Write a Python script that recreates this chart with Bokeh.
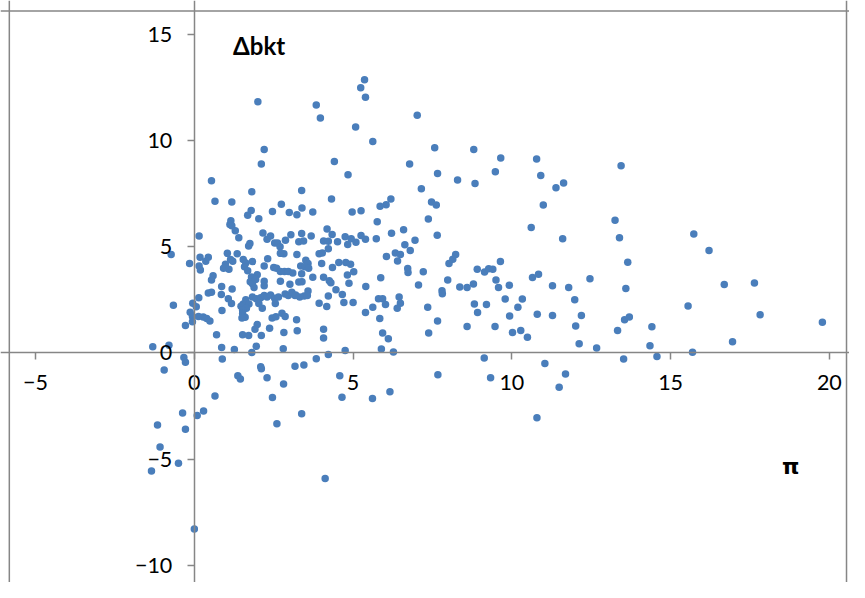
from bokeh.plotting import figure
from bokeh.models import Range1d, LinearAxis, FixedTicker, Label, Span, ColumnDataSource
from bokeh.embed import file_html
from bokeh.resources import INLINE

# ---- data ----
pi_values = [
    2.00, 2.20, 2.11, 0.54, 0.65, 1.18, 1.81, 3.38, 1.79, 2.46, 2.74, 2.99, 3.39,
    5.36, 5.24, 5.39, 3.84, 3.97, 7.02, 5.08, 5.62, 4.41, 4.84, 6.78, 7.57, 7.66, 7.15,
    8.29, 8.80, 8.84, 9.65, 9.48, 10.78, 10.91, 11.39, 11.63, 10.99, 4.32, 6.19, 6.04,
    5.85, 7.47, 7.62, 4.97, 5.25, 3.73, 13.44,
    13.25, 11.60, 13.39, 15.73, 16.21, 13.65, 12.46, 11.79, 13.59, 16.69, 17.64, 11.98,
    15.55, 12.19, 13.55, 13.70, 17.82, 19.78, 12.01, 13.33, 14.41, 12.12, 12.67, 14.35,
    16.95, 15.69, 14.57, 13.52, 11.69,
    3.23, 5.76, 7.37, 10.61, 4.18, 3.38, 3.68, 4.34, 6.21, 6.59, 7.65, 4.75, 4.94, 5.25,
    5.39, 5.73, 4.07, 4.22, 4.51, 5.09, 4.83, 3.29, 3.44, 3.23, 3.93, 4.03, 4.22, 6.95,
    6.63, 6.80, 6.33, 6.49, 6.05, 6.40, 8.23, 8.14, 8.02, 9.64, 3.51, 3.58, 3.35, 3.48,
    3.60, 4.01, 4.55, 4.77, 4.92, 4.35, 5.02, 4.82, 6.72, 6.73, 7.21, 5.87, 3.38, 3.73,
    4.07, 4.25, 4.30, 4.87, 3.29, 3.39, 7.98, 8.91, 9.14, 9.27, 9.40, 9.50, 9.58, 9.92,
    8.79, 8.36, 8.59, 10.65, 10.84, 11.28, 7.06, 5.40, 4.46, 4.66, 4.22, 3.17, 3.32,
    3.46, 3.58, 3.56, 7.80, 7.81, 5.80, 5.93, 6.45, 6.49, 6.02, 6.39, 5.62, 5.39, 5.00,
    4.71, 3.93, 4.17, 7.35, 9.79, 10.33, 8.82, 9.20, 10.19, 8.92, 9.93, 10.80, 11.28,
    5.84, 7.66, 8.59, 9.47, 10.02, 10.28, 10.49, 7.38, 5.93, 6.11, 4.07, 4.07, 3.22,
    3.24, 5.89, 6.27, 4.75, 4.22, 3.84, 3.17, 3.45, 4.58, 7.67, 9.13, 9.33, 11.04,
    3.38, 4.65, 5.61, 6.16, 4.12, 10.79, 11.49,
    0.65, -0.37, 0.09, 0.29, -1.16, -0.28, -1.08, -0.50, -1.35, 0.00, 2.46, 2.60, 2.81,
    1.68, 2.03, 1.15, 1.12, 1.18, 1.29, 0.15, 1.40, 2.16, 2.40, 2.29, 2.53, 2.62, 2.87,
    3.04, 1.75, 1.71, 2.70, 2.82, 2.71, 1.04, 1.35, -0.73, 0.18, 0.44, -0.15, 0.36, 0.15,
    0.19, 1.14, 1.21, 0.98, 0.92, 1.09, 1.54, 1.62, 1.83, 1.58, 1.68, 2.20, 2.31, 2.50,
    2.59, 2.71, 2.84, 2.96, 3.10, 1.98, 1.80, 1.76, 1.83, 1.93, 1.88, 2.20, 2.20, 2.71,
    3.01, 0.59, 0.54, 0.44, 0.54, 0.86, 1.19, 0.85, 0.14, -0.66, -0.05, 0.06, 1.07, 1.17,
    1.62, 1.54, 1.47, 1.72, 1.64, 1.52, 1.83, 1.95, 2.09, 2.20, 2.29, 2.40, 2.53, 2.65,
    2.86, 2.96, 3.07, 3.19, 2.03, 2.14, 2.55, 0.87, -0.13, -0.06, 0.13, 0.28, 0.39, 0.49,
    -0.06, -0.28, 1.52, 1.60, 1.50, 2.45, 2.57, 2.76, 2.86, 1.98, 1.91, 2.37, 2.82,
    0.70, 1.52, 1.71, 2.11, 0.86, 1.26, 1.95, 2.80, 1.81, -1.31, -0.80, -0.33, -0.28,
    -0.95, 0.88, 2.09, 2.11, 2.29, 1.37, 1.45,
]
dbkt_values = [
    11.82, 9.57, 8.89, 8.11, 7.14, 7.11, 7.59, 7.65, 6.70, 6.66, 7.00, 6.61, 6.82,
    12.86, 12.48, 12.03, 11.67, 11.06, 11.19, 10.64, 9.95, 9.01, 8.39, 8.89, 9.66, 8.45, 7.73,
    8.14, 9.58, 7.97, 9.18, 8.53, 9.13, 8.35, 7.77, 8.00, 6.96, 7.25, 7.25, 6.98,
    6.90, 7.11, 6.96, 6.63, 6.69, 6.63, 8.81,
    6.25, 5.37, 5.42, 5.60, 4.82, 4.27, 3.49, 3.08, 3.04, 3.22, 3.29, 2.51,
    2.21, 1.77, 1.57, 1.69, 1.80, 1.45, 1.27, 1.06, 1.24, 0.44, 0.23, 0.34,
    0.53, 0.03, -0.16, -0.28, -0.99,
    6.51, 6.17, 6.30, 5.90, 5.84, 5.62, 5.50, 5.57, 5.63, 5.80, 5.54, 5.47, 5.37, 5.53,
    5.35, 5.37, 5.27, 5.26, 5.24, 5.21, 5.10, 5.24, 5.27, 4.64, 4.67, 4.71, 4.91, 5.30,
    5.09, 4.82, 4.71, 4.64, 4.54, 4.33, 4.64, 4.41, 4.21, 4.30, 4.36, 4.21, 4.09, 4.06,
    3.99, 4.21, 4.26, 4.26, 4.18, 4.02, 3.82, 3.67, 3.97, 3.79, 3.82, 3.54, 3.73, 3.56,
    3.56, 3.40, 3.31, 3.28, 3.34, 3.35, 3.44, 3.94, 3.81, 3.96, 3.94, 3.43, 3.08, 3.19,
    3.25, 3.11, 3.08, 3.55, 3.70, 3.16, 3.20, 3.13, 2.97, 2.75, 2.68, 2.70, 2.63,
    2.68, 2.92, 2.70, 2.93, 2.79, 2.55, 2.55, 2.63, 2.34, 2.28, 2.10, 2.15, 1.91, 2.37,
    2.37, 2.34, 2.19, 2.15, 2.54, 2.54, 2.31, 2.28, 2.15, 1.91, 1.74, 1.82, 1.77,
    1.62, 1.50, 1.25, 1.25, 0.96, 1.06, 0.74, 0.94, 0.94, 0.67, 1.12, 0.71, 1.57,
    1.05, 0.19, 0.05, 0.12, -0.07, -0.27, -0.62, -0.57, -1.07, -1.02, -0.24, -1.16, -0.49,
    -2.86, -2.08, -2.14, -1.82, -5.91, -3.05, -1.61,
    -2.02, -2.82, -2.94, -2.73, -3.39, -3.59, -4.42, -5.19, -5.55, -8.28, -2.10, -3.33, -1.46,
    6.48, 6.32, 6.22, 6.05, 5.99, 5.75, 5.51, 5.42, 5.65, 5.51, 5.35, 5.18, 5.18, 5.30,
    5.56, 5.15, 5.03, 5.00, 4.67, 4.69, 4.69, 4.67, 4.64, 4.51, 4.51, 4.21, 4.32, 4.09,
    3.91, 4.40, 4.32, 4.18, 3.99, 3.94, 4.40, 4.24, 4.30, 4.06, 3.87, 4.09, 4.44, 4.02,
    3.99, 3.83, 3.83, 3.83, 3.76, 3.68, 3.58, 3.35, 3.26, 3.46, 3.08, 3.38, 3.16, 3.38,
    3.23, 3.64, 3.44, 2.82, 2.86, 3.13, 3.01, 2.75, 2.60, 2.25, 2.34, 2.18, 2.55, 2.33,
    2.51, 2.31, 2.20, 2.30, 2.10, 2.01, 2.63, 2.55, 2.60, 2.70, 2.63, 2.73, 2.58, 2.63,
    2.78, 2.70, 2.86, 2.73, 2.33, 2.10, 2.33, 2.00, 1.92, 1.72, 1.72, 1.69, 1.62, 1.50,
    1.47, 1.29, 1.87, 1.68, 1.65, 1.65, 1.71, 1.87, 1.72, 1.34, 1.12, 1.16, 0.97,
    0.86, 0.86, 0.82, 0.82, 0.26, 0.17, 0.32, 0.20, 0.02, 0.29, 0.37, -0.21, -0.43,
    -0.80, -0.28, -0.65, -0.74, -1.17, -1.07, -1.22,
]
x_ticks = [-5, 0, 5, 10, 15, 20]
y_ticks = [-10, -5, 0, 5, 10, 15]
x_title = "π"
y_title = "Δbkt"

FONT = "Lato"
AXIS_GREY = "#868686"

p = figure(
    width=849, height=582,
    x_range=Range1d(-6.105, 20.634), y_range=Range1d(-10.8, 16.587),
    x_axis_location=None, y_axis_location=None,
    output_backend="svg", toolbar_location=None,
    min_border_left=0, min_border_right=0, min_border_top=0, min_border_bottom=0,
)
p.grid.visible = False
p.outline_line_color = None
p.background_fill_color = "white"
p.border_fill_color = "white"

xaxis = LinearAxis(ticker=FixedTicker(ticks=x_ticks), fixed_location=0)
yaxis = LinearAxis(ticker=FixedTicker(ticks=y_ticks), fixed_location=0)
for ax in (xaxis, yaxis):
    ax.axis_line_color = AXIS_GREY
    ax.axis_line_width = 1.5
    ax.major_tick_line_color = AXIS_GREY
    ax.major_tick_line_width = 1.5
    ax.major_tick_in = 0
    ax.major_tick_out = 7
    ax.minor_tick_line_color = None
    ax.major_label_text_font = FONT
    ax.major_label_text_font_size = "21.5px"
    ax.major_label_text_color = "#000000"
xaxis.major_label_standoff = 15
yaxis.major_label_standoff = 15
p.add_layout(xaxis, "below")
p.add_layout(yaxis, "left")

# chart-area border (left, top and right edges)
p.add_layout(Span(location=-5.827, dimension="height", line_color=AXIS_GREY, line_width=1.5))
p.add_layout(Span(location=16.09, dimension="width", line_color=AXIS_GREY, line_width=1.5))
p.add_layout(Span(location=20.54, dimension="height", line_color=AXIS_GREY, line_width=1.5))

src = ColumnDataSource(data=dict(x=pi_values, y=dbkt_values))
p.scatter("x", "y", source=src, size=7.5, fill_color="#4a7ebb", line_color=None)

p.add_layout(Label(x=1.22, y=14.46, text=y_title, text_font=FONT, text_font_style="bold",
                   text_font_size="24px", text_color="#000000", text_baseline="alphabetic"))
p.add_layout(Label(x=18.78, y=-5.32, text=x_title, text_font="DejaVu Sans", text_font_style="bold",
                   text_font_size="22px", text_color="#000000", text_align="center",
                   text_baseline="alphabetic"))

open("out.html", "w").write(file_html(p, INLINE))
